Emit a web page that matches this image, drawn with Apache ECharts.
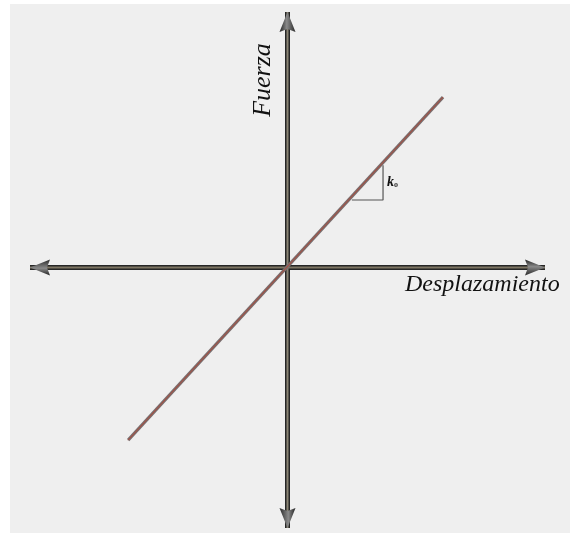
<!DOCTYPE html>
<html lang="es" style="height: 100%">
<head>
  <meta charset="utf-8">
</head>
<body style="height: 100%; margin: 0; background: #ffffff">
<div id="container" style="width: 570px; height: 533px"></div>

<script type="text/javascript" src="https://cdn.jsdelivr.net/npm/echarts@6/dist/echarts.min.js"></script>

<script type="text/javascript">
  // axis extents (arbitrary units, origin at 0,0)
  var xRange = [-1, 1];
  var yRange = [-1.02, 1];

  // the force-displacement line and its slope triangle
  var stiffnessLine = [[-0.619, -0.676], [0.604, 0.667]];
  var slopeTriangle = [[0.25, 0.264], [0.371, 0.264], [0.371, 0.40]];

  // arrow tips: [x, y, rotation, offsetX, offsetY]
  var arrowTips = [
    [0, 1, 0, 0, 10],
    [0, -1.02, 180, 0, -10],
    [-1, 0, 90, 10, 0],
    [1, 0, -90, -10, 0]
  ];

  var xLabel = 'Desplazamiento';
  var yLabel = 'Fuerza';

  var dom = document.getElementById('container');
  var myChart = echarts.init(dom, null, { renderer: 'canvas' });

  var arrowGrad = new echarts.graphic.LinearGradient(0, 0, 1, 0, [
    { offset: 0, color: '#222222' },
    { offset: 0.45, color: '#8a8a8a' },
    { offset: 1, color: '#2a2a2a' }
  ]);

  var option = {
    animation: false,
    graphic: [
      {
        type: 'rect', z: -10, silent: true,
        shape: { x: 10, y: 4, width: 560, height: 529 },
        style: { fill: '#efefef' }
      },
      {
        type: 'text', x: 276, y: 80, rotation: Math.PI / 2, z: 10,
        style: {
          text: yLabel, font: 'italic 26px "Liberation Serif"', fill: '#111',
          textAlign: 'center', textVerticalAlign: 'bottom'
        }
      },
      {
        type: 'text', x: 405, y: 297, z: 10,
        style: {
          text: xLabel, font: 'italic 24px "Liberation Serif"', fill: '#111',
          textAlign: 'left', textVerticalAlign: 'bottom'
        }
      },
      {
        type: 'text', x: 387, y: 189, z: 10,
        style: {
          text: '{k|k}{s|o}',
          textVerticalAlign: 'bottom',
          rich: {
            k: { font: 'italic bold 14px "Liberation Serif"', fill: '#111' },
            s: { font: 'bold 8px "Liberation Serif"', fill: '#333', padding: [6, 0, 0, 0] }
          }
        }
      }
    ],
    grid: { left: 30, top: 12, width: 515, height: 516 },
    xAxis: { type: 'value', min: xRange[0], max: xRange[1], show: false },
    yAxis: { type: 'value', min: yRange[0], max: yRange[1], show: false },
    series: [
      {
        type: 'line', symbol: 'none', silent: true, z: 1,
        data: [[xRange[0], 0], [xRange[1], 0]],
        lineStyle: { color: '#262626', width: 5 }
      },
      {
        type: 'line', symbol: 'none', silent: true, z: 2,
        data: [[xRange[0], 0], [xRange[1], 0]],
        lineStyle: { color: '#7d7563', width: 2 }
      },
      {
        type: 'line', symbol: 'none', silent: true, z: 1,
        data: [[0, yRange[0]], [0, yRange[1]]],
        lineStyle: { color: '#262626', width: 5 }
      },
      {
        type: 'line', symbol: 'none', silent: true, z: 2,
        data: [[0, yRange[0]], [0, yRange[1]]],
        lineStyle: { color: '#8a8474', width: 2 }
      },
      {
        type: 'line', symbol: 'none', silent: true, z: 3,
        data: slopeTriangle,
        lineStyle: { color: '#555555', width: 1.2 }
      },
      {
        type: 'line', symbol: 'none', silent: true, z: 4,
        data: stiffnessLine,
        lineStyle: { color: '#7a6c6c', width: 3.2 }
      },
      {
        type: 'line', symbol: 'none', silent: true, z: 5,
        data: stiffnessLine,
        lineStyle: { color: '#b04a3a', width: 1 }
      },
      {
        type: 'scatter', silent: true, z: 6,
        symbol: 'path://M8,0 L16,20 L8,17 L0,20 Z',
        symbolSize: [16, 20],
        itemStyle: { color: arrowGrad, opacity: 1 },
        data: arrowTips.map(function (a) {
          return {
            value: [a[0], a[1]],
            symbolRotate: a[2],
            symbolOffset: [a[3], a[4]]
          };
        })
      }
    ]
  };

  myChart.setOption(option);
  window.addEventListener('resize', myChart.resize);
</script>
</body>
</html>
